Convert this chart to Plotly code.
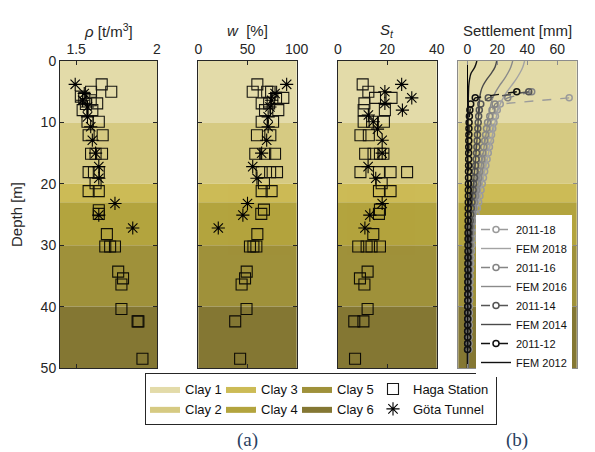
import plotly.graph_objects as go

# ---------------- data ----------------
clay_names = ['Clay 1', 'Clay 2', 'Clay 3', 'Clay 4', 'Clay 5', 'Clay 6']
clay_top = [0, 10, 20, 23, 30, 40]
clay_bottom = [10, 20, 23, 30, 40, 50]
clay_colors = ['#E3DBA9', '#D6CA82', '#CCBB56', '#B3A43E', '#9F913A', '#847733']
clay_group = ['g1', 'g1', 'g2', 'g2', 'g3', 'g3']

# density rho [t/m3]
haga_rho_depth = [3.8, 5.0, 5.0, 5.8, 6.0, 6.4, 6.9, 7.0, 8.0, 8.0, 9.9, 9.9, 12.1, 12.1,
                  15.1, 15.1, 15.1, 18.1, 18.1, 18.1, 19.9, 21.2, 21.2, 24.3, 24.9, 28.2,
                  30.2, 30.2, 30.2, 34.3, 35.4, 36.4, 40.4, 42.4, 42.4, 48.5]
haga_rho = [1.658, 1.717, 1.592, 1.529, 1.55, 1.59, 1.63, 1.56, 1.54, 1.60, 1.57, 1.64, 1.577, 1.664,
            1.592, 1.62, 1.66, 1.577, 1.61, 1.64, 1.62, 1.577, 1.64, 1.64, 1.64, 1.69,
            1.68, 1.71, 1.74, 1.76, 1.79, 1.78, 1.78, 1.88, 1.885, 1.91]
gota_rho_depth = [3.8, 5.3, 6.4, 7.5, 9.1, 10.7, 12.9, 15.0, 17.2, 19.1, 23.2, 25.1, 27.2]
gota_rho = [1.494, 1.55, 1.54, 1.57, 1.57, 1.59, 1.60, 1.62, 1.64, 1.64, 1.74, 1.64, 1.85]

# water content w [%]
haga_w_depth = [3.8, 5.0, 5.0, 5.0, 6.0, 6.0, 6.9, 6.9, 8.0, 8.0, 9.9, 9.9, 12.1, 12.1,
                15.1, 15.1, 15.1, 18.1, 18.1, 18.1, 19.9, 21.2, 21.2, 24.2, 24.9, 28.2,
                30.2, 30.2, 30.2, 34.3, 35.4, 36.4, 40.4, 42.4, 48.5]
haga_w = [60, 55.3, 70, 74, 86.4, 79, 64.4, 72, 81.3, 67.8, 64.4, 76, 59.6, 73.2,
          57.9, 68, 78, 64.4, 73, 80, 66.7, 64.4, 74.5, 66.7, 64, 60,
          52.5, 56, 59, 49.2, 47.5, 44, 49, 37.5, 42.5]
gota_w_depth = [3.8, 5.3, 6.4, 7.5, 9.1, 10.7, 12.9, 15.0, 17.2, 19.1, 23.2, 25.1, 27.2]
gota_w = [89.8, 78, 74.5, 72.8, 71, 71, 69.5, 64.4, 55.3, 59.6, 50, 45.3, 20.3]

# sensitivity St
haga_st_depth = [3.8, 5.0, 6.0, 6.0, 6.9, 8.0, 8.0, 9.9, 9.9, 9.9, 12.1, 12.1, 15.1, 15.1,
                 15.1, 15.1, 18.1, 18.1, 18.1, 18.1, 19.9, 21.2, 21.2, 24.2, 24.9, 28.2,
                 30.2, 30.2, 30.2, 30.2, 34.3, 35.4, 36.4, 40.4, 42.4, 42.4, 48.5]
haga_st = [10, 12.3, 15, 21.7, 10.7, 19, 10.4, 10.4, 13.8, 18.6, 9.1, 12.5, 11, 14.4,
           17, 18.4, 9.1, 16.6, 21.3, 28, 17.7, 16.6, 21.3, 17, 16.6, 14.3,
           8.2, 11.6, 13.6, 17, 12, 8.9, 10.7, 12, 6.6, 10.3, 6.9]
gota_st_depth = [3.8, 5.0, 6.0, 6.9, 8.0, 8.8, 9.9, 11.1, 12.9, 15.0, 17.2, 19.1, 23.2, 25.1, 27.2]
gota_st = [25.8, 19, 29.9, 19, 26.1, 12.3, 14.3, 16, 17.9, 17.9, 12.2, 15.3, 17.9, 12.9, 10.9]

# settlement [mm]
meas_depth = [5, 6, 7, 8, 9, 10, 11, 12, 13, 14, 15, 16, 17, 18, 19, 20, 21, 22, 23, 24, 25, 26,
              27, 28, 29, 30, 31, 32, 33, 34, 35, 36, 37, 38, 39, 40, 41, 42, 43, 44, 45, 46, 47]
meas18_depth = [6, 7, 8, 9, 10, 11, 12, 13, 14, 15, 16, 17, 18, 19, 20, 21, 22, 23, 24, 25, 26,
                27, 28, 29, 30, 31, 32, 33, 34, 35, 36, 37, 38, 39, 40, 41, 42, 43, 44, 45, 46, 47]
meas_2011_12 = [33, 5.3, 2.3, 1.7, 1.4, 1.2, 1.1, 1.05, 1.0, 0.95, 0.9, 0.9, 0.85, 0.8, 0.8, 0.75,
                0.7, 0.7, 0.65, 0.6, 0.6, 0.55, 0.55, 0.5, 0.5, 0.45, 0.45, 0.4, 0.4, 0.4, 0.35,
                0.35, 0.3, 0.3, 0.3, 0.25, 0.25, 0.25, 0.2, 0.2, 0.2, 0.2, 0.15]
meas_2011_14 = [41, 14, 9, 8, 7.6, 7.3, 7.0, 6.8, 6.6, 6.4, 6.2, 5.9, 5.6, 5.2, 4.8, 4.3,
                3.9, 3.5, 3.1, 2.7, 2.3, 2.0, 1.7, 1.4, 1.2, 1.0, 0.9, 0.8, 0.75, 0.7, 0.65,
                0.6, 0.55, 0.5, 0.5, 0.45, 0.45, 0.4, 0.4, 0.35, 0.35, 0.3, 0.3]
meas_2011_16 = [43, 27, 18.5, 16.5, 15, 13.5, 12.8, 12.2, 11.6, 11, 10.4, 9.8, 9.1, 8.4, 7.7, 7,
                6.3, 5.6, 5, 4.4, 3.8, 3.3, 2.9, 2.5, 2.2, 1.9, 1.7, 1.5, 1.4, 1.3, 1.2,
                1.1, 1.0, 0.95, 0.9, 0.85, 0.8, 0.75, 0.7, 0.7, 0.65, 0.6, 0.6]
meas_2011_18 = [68, 22, 20, 18.8, 17.8, 17, 16.2, 15.5, 14.8, 14, 13.2, 12.4, 11.6, 10.8, 10,
                9.2, 8.4, 7.6, 6.8, 6, 5.3, 4.7, 4.1, 3.6, 3.1, 2.8, 2.5, 2.3, 2.1, 1.9,
                1.8, 1.7, 1.6, 1.5, 1.4, 1.35, 1.3, 1.25, 1.2, 1.15, 1.1, 1.05]

fem_depth = [0, 1, 2, 3, 4, 5, 6, 7, 8, 9, 10, 12, 14, 16, 18, 20, 22, 24, 26, 28, 30, 32, 35, 40, 45, 50]
fem_2018 = [38.2, 37, 35, 32.5, 29.5, 26.5, 24, 22, 20.5, 19.5, 18.5, 16.8, 15, 13.3, 11.5, 9.8,
            8.2, 6.6, 5.2, 4, 3, 2.3, 1.7, 1.2, 0.9, 0.7]
fem_2016 = [30.3, 29, 27, 24.5, 21.5, 19, 17, 15.8, 15, 14.3, 13.7, 12.5, 11.2, 10, 8.7, 7.4,
            6.2, 5, 4, 3.1, 2.3, 1.8, 1.3, 0.9, 0.7, 0.5]
fem_2014 = [19.6, 18.5, 16, 13, 10.5, 9, 8.3, 7.9, 7.6, 7.4, 7.2, 6.7, 6.1, 5.5, 4.8, 4.1,
            3.5, 2.8, 2.2, 1.7, 1.3, 1, 0.8, 0.5, 0.4, 0.3]
fem_2012 = [6.4, 5, 2.5, 1.5, 1, 0.8, 0.7, 0.65, 0.6, 0.55, 0.5, 0.45, 0.4, 0.38, 0.35, 0.32,
            0.3, 0.27, 0.25, 0.22, 0.2, 0.18, 0.15, 0.1, 0.08, 0.05]

depth_ticks = [0, 10, 20, 30, 40, 50]
panel_titles = ['<i>ρ</i> [t/m<sup>3</sup>]', '<i>w</i>  [%]', '<i>S<sub>t</sub></i>', 'Settlement [mm]']

# ---------------- figure ----------------
FONT = 'Liberation Sans, Arial, sans-serif'
AX = '#262626'
OFF = 8          # page body margin in the browser
W, H = 595 - OFF, 452 - OFF


def px(x):
    return (x - OFF) / W


def py(y):
    return 1 - (y - OFF) / H


fig = go.Figure()

# legend entries for clay layers
for name, col, grp in zip(clay_names, clay_colors, clay_group):
    fig.add_trace(go.Scatter(x=[None], y=[None], mode='lines', fill='toself', fillcolor=col,
                             line=dict(width=0, color=col), name=name, legendgroup=grp,
                             legend='legend', legendwidth=31, xaxis='x', yaxis='y'))

sq = dict(symbol='square-open', size=11, color='black', line=dict(width=1.1))
ast = dict(symbol='asterisk-open', size=11, color='black', line=dict(width=1.1))

panels = [(haga_rho, haga_rho_depth, gota_rho, gota_rho_depth, '', ''),
          (haga_w, haga_w_depth, gota_w, gota_w_depth, '2', '2'),
          (haga_st, haga_st_depth, gota_st, gota_st_depth, '3', '3')]
for i, (hx, hy, gx, gy, xs, ys) in enumerate(panels):
    fig.add_trace(go.Scatter(x=hx, y=hy, mode='markers', marker=sq, name='Haga Station',
                             legendgroup='g4', showlegend=(i == 0), opacity=0.9,
                             legendwidth=78, xaxis='x' + xs, yaxis='y' + ys))
    fig.add_trace(go.Scatter(x=gx, y=gy, mode='markers', marker=ast, name='Göta Tunnel',
                             legendgroup='g4', showlegend=(i == 0), legendwidth=78,
                             xaxis='x' + xs, yaxis='y' + ys))

# settlement panel
sett = [
    ('2011-18', meas_2011_18, meas18_depth, '#9b9b9b', 'meas'),
    ('FEM 2018', fem_2018, fem_depth, '#a3a3a3', 'fem'),
    ('2011-16', meas_2011_16, meas_depth, '#858585', 'meas'),
    ('FEM 2016', fem_2016, fem_depth, '#8a8a8a', 'fem'),
    ('2011-14', meas_2011_14, meas_depth, '#555555', 'meas'),
    ('FEM 2014', fem_2014, fem_depth, '#4a4a4a', 'fem'),
    ('2011-12', meas_2011_12, meas_depth, '#111111', 'meas'),
    ('FEM 2012', fem_2012, fem_depth, '#111111', 'fem'),
]
for name, xv, yv, col, kind in sett:
    if kind == 'meas':
        fig.add_trace(go.Scatter(x=xv, y=yv, mode='lines+markers', name=name,
                                 line=dict(color=col, width=1.4, dash='dash'),
                                 marker=dict(symbol='circle-open', size=6, color=col,
                                             line=dict(width=1.5)),
                                 legend='legend2', xaxis='x4', yaxis='y4'))
    else:
        fig.add_trace(go.Scatter(x=xv, y=yv, mode='lines', name=name,
                                 line=dict(color=col, width=1.4), line_shape='spline',
                                 legend='legend2', xaxis='x4', yaxis='y4'))

# clay bands
shapes = []
for s in ['', '2', '3', '4']:
    for t, b, c in zip(clay_top, clay_bottom, clay_colors):
        shapes.append(dict(type='rect', xref='x%s domain' % s, yref='y' + s, x0=0, x1=1,
                           y0=t, y1=b, fillcolor=c, line=dict(width=0), layer='below'))

ydom = [py(368), py(61)]
xdoms = [[px(60), px(157)], [px(198.3), px(296.7)],
         [px(338), px(436.7)], [px(458.3), px(576.7)]]
xranges = [[1.4, 2.0], [0, 100], [0, 40], [-6, 73]]
xticks = [[1.5, 2], [0, 50, 100], [0, 20, 40], [0, 20, 40, 60]]

lay = {}
annotations = []
for k in range(4):
    s = '' if k == 0 else str(k + 1)
    lc = AX if k < 3 else '#8c8c8c'
    lay['xaxis' + s] = dict(domain=xdoms[k], range=xranges[k], side='top', anchor='y' + s,
                            tickvals=xticks[k], ticks='inside', ticklen=4, tickcolor=lc,
                            showline=True, linecolor=lc, linewidth=1, mirror='ticks',
                            showgrid=False, zeroline=(k == 3), zerolinecolor='black',
                            zerolinewidth=1.2, automargin=False,
                            tickfont=dict(family=FONT, size=14, color='#262626'))
    lay['yaxis' + s] = dict(domain=ydom, range=[50, 0], anchor='x' + s, tickvals=depth_ticks,
                            ticks='inside', ticklen=4, tickcolor=lc, showline=True,
                            linecolor=lc, linewidth=1, mirror='ticks', showgrid=False,
                            zeroline=False, showticklabels=(k == 0), automargin=False,
                            tickfont=dict(family=FONT, size=14, color='#262626'),
                            title=dict(text='Depth [m]' if k == 0 else '',
                                       font=dict(family=FONT, size=15, color='#262626')))
    annotations.append(dict(text=panel_titles[k], x=(xdoms[k][0] + xdoms[k][1]) / 2,
                            y=py(30), xref='paper', yref='paper', xanchor='center',
                            yanchor='middle', showarrow=False,
                            font=dict(family=FONT, size=15, color='#262626')))

annotations += [
    dict(text='(a)', x=px(247), y=py(440), xref='paper', yref='paper',
         xanchor='center', yanchor='middle', showarrow=False,
         font=dict(family='Liberation Serif, Times New Roman', size=19)),
    dict(text='(b)', x=px(517), y=py(440), xref='paper', yref='paper',
         xanchor='center', yanchor='middle', showarrow=False,
         font=dict(family='Liberation Serif, Times New Roman', size=19)),
]

fig.update_layout(
    width=W, height=H, margin=dict(l=0, r=0, t=0, b=0, autoexpand=False),
    paper_bgcolor='white', plot_bgcolor='white', shapes=shapes,
    legend=dict(orientation='h', traceorder='grouped', x=px(145), y=py(373),
                xanchor='left', yanchor='top', bgcolor='white', bordercolor=AX,
                borderwidth=1, font=dict(family=FONT, size=13, color='#111111'),
                itemwidth=30, tracegroupgap=0),
    legend2=dict(x=px(572), y=py(215), xanchor='right', yanchor='top',
                 bgcolor='white', borderwidth=0, tracegroupgap=0,
                 font=dict(family=FONT, size=11, color='#111111'), itemwidth=30),
    annotations=annotations,
    **lay)

fig.write_html('out.html')
